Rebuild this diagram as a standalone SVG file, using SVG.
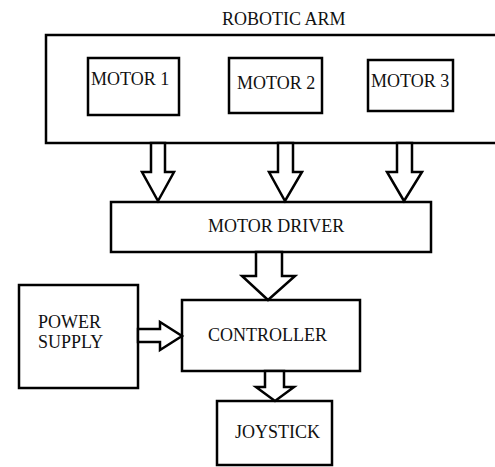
<svg xmlns="http://www.w3.org/2000/svg" width="495" height="467" viewBox="0 0 495 467">
  <style>
    .box { fill: #ffffff; stroke: #000000; stroke-width: 2.5; }
    .arrow { fill: #ffffff; stroke: #000000; stroke-width: 2.5; stroke-linejoin: miter; }
    .lbl { font-family: "Liberation Serif", "DejaVu Serif", serif; font-size: 18px; fill: #111111; }
  </style>
  <rect width="495" height="467" fill="#ffffff"/>

  <g id="robotic-arm">
    <rect class="box" x="46" y="35" width="460" height="108"/>
    <text class="lbl" x="222" y="25">ROBOTIC ARM</text>
  </g>
  <g id="motor-1">
    <rect class="box" x="88" y="58" width="91" height="57"/>
    <text class="lbl" x="91" y="85">MOTOR 1</text>
  </g>
  <g id="motor-2">
    <rect class="box" x="229" y="58" width="93" height="55"/>
    <text class="lbl" x="237" y="89">MOTOR 2</text>
  </g>
  <g id="motor-3">
    <rect class="box" x="368" y="60" width="85" height="51"/>
    <text class="lbl" x="371" y="87">MOTOR 3</text>
  </g>
  <g id="motor-driver">
    <rect class="box" x="111" y="202" width="320" height="50"/>
    <text class="lbl" x="208" y="232">MOTOR DRIVER</text>
  </g>
  <g id="power-supply">
    <rect class="box" x="19" y="285" width="119" height="103"/>
    <text class="lbl" x="38" y="328">POWER</text>
    <text class="lbl" x="38" y="348">SUPPLY</text>
  </g>
  <g id="controller">
    <rect class="box" x="182" y="300" width="178" height="71"/>
    <text class="lbl" x="208" y="341">CONTROLLER</text>
  </g>
  <g id="joystick">
    <rect class="box" x="217" y="401" width="115" height="64"/>
    <text class="lbl" x="235" y="438">JOYSTICK</text>
  </g>

  <g id="connectors">
    <polygon class="arrow" points="151,143 165,143 165,172 174,172 158,201 142,172 151,172"/>
    <polygon class="arrow" points="278,143 293,143 293,172 302,172 285,201 269,172 278,172"/>
    <polygon class="arrow" points="397,143 412,143 412,172 422,172 404,201 387,172 397,172"/>
    <polygon class="arrow" points="256,252 282,252 282,276 295,276 268,300 242,276 256,276"/>
    <polygon class="arrow" points="138,329 160,329 160,322 182,336 160,350 160,342 138,342"/>
    <polygon class="arrow" points="265,371 284,371 284,387 294,387 275,401 256,387 265,387"/>
  </g>
</svg>
